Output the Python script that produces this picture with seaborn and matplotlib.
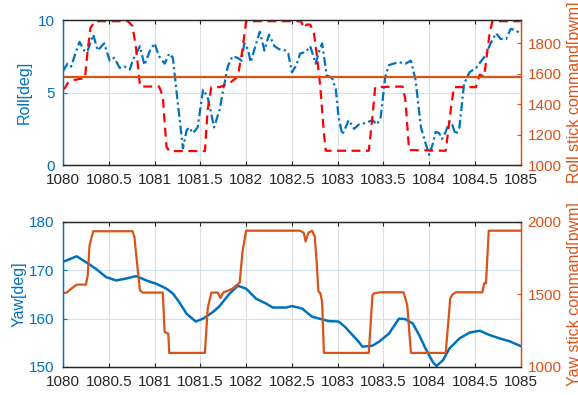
import numpy as np
import pandas as pd
import seaborn as sns
from matplotlib import pyplot as plt
from matplotlib.ticker import FuncFormatter, MultipleLocator

# ---- data ----
roll_t = [1080.0, 1080.02, 1080.05, 1080.09, 1080.13, 1080.18, 1080.24, 1080.27, 1080.33, 1080.38,
          1080.42, 1080.45, 1080.51, 1080.56, 1080.62, 1080.67, 1080.73, 1080.76, 1080.84, 1080.89,
          1080.95, 1081.0, 1081.05, 1081.11, 1081.16, 1081.2, 1081.25, 1081.31, 1081.35, 1081.38,
          1081.42, 1081.47, 1081.53, 1081.58, 1081.65, 1081.71, 1081.75, 1081.8, 1081.85, 1081.91,
          1081.95, 1081.98, 1082.02, 1082.05, 1082.11, 1082.15, 1082.2, 1082.25, 1082.31, 1082.36,
          1082.43, 1082.46, 1082.5, 1082.55, 1082.59, 1082.65, 1082.7, 1082.72, 1082.76, 1082.79,
          1082.83, 1082.88, 1082.94, 1082.98, 1083.01, 1083.05, 1083.08, 1083.12, 1083.18, 1083.23,
          1083.3, 1083.38, 1083.43, 1083.47, 1083.52, 1083.56, 1083.61, 1083.67, 1083.74, 1083.8,
          1083.85, 1083.91, 1083.96, 1084.0, 1084.04, 1084.07, 1084.11, 1084.14, 1084.18, 1084.22,
          1084.25, 1084.29, 1084.33, 1084.38, 1084.44, 1084.51, 1084.57, 1084.62, 1084.67, 1084.73,
          1084.78, 1084.84, 1084.89, 1084.95, 1085.0]
roll_deg = [6.5, 6.7, 7.0, 6.8, 7.6, 8.5, 7.8, 7.9, 9.0, 7.9,
            8.2, 8.4, 7.2, 7.4, 6.7, 6.8, 6.6, 7.2, 8.2, 6.9,
            7.9, 8.4, 7.5, 7.0, 7.7, 7.4, 4.5, 1.15, 2.4, 2.6,
            2.2, 2.6, 5.2, 4.7, 2.6, 3.8, 5.2, 6.8, 7.5, 7.4,
            7.2, 8.4, 8.0, 7.1, 8.4, 9.2, 7.9, 9.0, 8.2, 8.0,
            7.9, 7.7, 6.4, 6.9, 7.7, 7.8, 8.2, 7.8, 7.0, 7.7,
            8.4, 6.2, 6.0, 5.2, 3.3, 2.1, 2.5, 3.1, 2.5, 2.8,
            2.9, 3.1, 2.8, 3.3, 6.1, 6.9, 7.0, 7.1, 7.0, 7.2,
            5.9, 2.6, 1.5, 0.7, 1.5, 2.3, 2.2, 1.8, 2.3, 3.0,
            2.8, 2.1, 2.6, 5.6, 6.4, 6.7, 7.2, 7.6, 8.4, 9.1,
            8.7, 8.7, 9.4, 9.3, 9.0]

roll_cmd_t = [1080.0, 1080.02, 1080.05, 1080.13, 1080.24, 1080.27, 1080.3, 1080.35, 1080.71, 1080.76,
              1080.8, 1080.84, 1080.85, 1081.05, 1081.09, 1081.13, 1081.16, 1081.55, 1081.58, 1081.62,
              1081.71, 1081.82, 1081.91, 1081.96, 1082.0, 1082.6, 1082.63, 1082.66, 1082.7, 1082.74,
              1082.77, 1082.81, 1082.85, 1082.87, 1083.34, 1083.38, 1083.41, 1083.71, 1083.74, 1083.78,
              1084.18, 1084.24, 1084.27, 1084.51, 1084.55, 1084.6, 1084.66, 1084.69, 1085.0]
roll_cmd = [1500, 1504, 1537, 1559, 1570, 1756, 1899, 1943, 1943, 1910,
            1756, 1526, 1515, 1515, 1449, 1121, 1092, 1092, 1362, 1511,
            1511, 1537, 1581, 1756, 1943, 1943, 1899, 1921, 1921, 1866,
            1734, 1515, 1208, 1094, 1094, 1318, 1511, 1515, 1427, 1099,
            1094, 1384, 1511, 1511, 1592, 1581, 1866, 1943, 1943]

roll_ref_t = [1080.0, 1085.0]
roll_ref = [1580, 1580]

yaw_t = [1080.0, 1080.02, 1080.15, 1080.25, 1080.36, 1080.47, 1080.58, 1080.69, 1080.8, 1080.91,
         1081.02, 1081.13, 1081.2, 1081.27, 1081.35, 1081.45, 1081.53, 1081.64, 1081.71, 1081.82,
         1081.91, 1082.0, 1082.11, 1082.22, 1082.29, 1082.44, 1082.5, 1082.61, 1082.72, 1082.9,
         1083.01, 1083.08, 1083.23, 1083.27, 1083.38, 1083.45, 1083.56, 1083.67, 1083.74, 1083.82,
         1083.89, 1083.96, 1084.04, 1084.08, 1084.15, 1084.22, 1084.33, 1084.44, 1084.55, 1084.66,
         1084.77, 1084.88, 1085.0]
yaw_deg = [171.8, 171.9, 172.9, 171.7, 170.3, 168.6, 167.9, 168.3, 168.8, 167.9,
           167.2, 166.2, 165.2, 163.4, 161.0, 159.4, 160.0, 161.4, 162.6, 165.2,
           166.8, 166.2, 164.1, 163.1, 162.3, 162.3, 162.6, 162.1, 160.4, 159.5,
           159.4, 158.3, 155.2, 154.2, 154.4, 155.2, 156.9, 160.0, 159.9, 159.0,
           156.6, 153.8, 151.0, 150.2, 151.4, 153.8, 155.9, 157.1, 157.5, 156.6,
           155.9, 155.3, 154.3]

yaw_cmd_t = [1080.0, 1080.04, 1080.09, 1080.15, 1080.25, 1080.27, 1080.29, 1080.33, 1080.76, 1080.78,
             1080.8, 1080.84, 1080.87, 1081.09, 1081.11, 1081.15, 1081.16, 1081.55, 1081.58, 1081.62,
             1081.69, 1081.72, 1081.75, 1081.85, 1081.93, 1081.96, 1082.0, 1082.59, 1082.63, 1082.65,
             1082.68, 1082.72, 1082.75, 1082.77, 1082.79, 1082.81, 1082.83, 1082.85, 1083.34, 1083.38,
             1083.4, 1083.47, 1083.72, 1083.76, 1083.8, 1084.18, 1084.23, 1084.25, 1084.29, 1084.58,
             1084.6, 1084.62, 1084.65, 1085.0]
yaw_cmd = [1510, 1513, 1540, 1568, 1568, 1632, 1839, 1936, 1936, 1897,
           1770, 1529, 1513, 1513, 1241, 1230, 1097, 1097, 1402, 1513,
           1513, 1476, 1513, 1540, 1582, 1793, 1940, 1940, 1925, 1866,
           1925, 1940, 1900, 1727, 1520, 1510, 1450, 1097, 1097, 1497,
           1508, 1515, 1515, 1427, 1097, 1097, 1473, 1497, 1515, 1515,
           1577, 1577, 1940, 1940]

BLUE = "#0072BD"
ORANGE = "#D95319"
DARK = "#262626"

sns.set_style("white")
plt.rcParams["font.family"] = ["Liberation Sans", "DejaVu Sans"]
plt.rcParams["font.size"] = 11


def style_axes(ax, ax2, ylabel, ylabel2):
    ax.set_xlim(1080, 1085)
    ax.xaxis.set_major_locator(MultipleLocator(0.5))
    ax.xaxis.set_major_formatter(FuncFormatter(lambda v, p: f"{v:g}"))
    ax.tick_params(axis="x", direction="in", length=3, colors=DARK, labelsize=11,
                   top=True, bottom=True, pad=6)
    ax.tick_params(axis="y", direction="in", length=3, colors=BLUE, labelsize=11, pad=6)
    ax2.tick_params(axis="y", direction="in", length=3, colors=ORANGE, labelsize=11, pad=5)
    ax.grid(axis="x", color="#dedede", lw=0.8)
    ax.grid(axis="y", color="#cfe2f3", lw=0.8)
    ax2.grid(False)
    for a in (ax, ax2):
        a.spines["top"].set_color(DARK)
        a.spines["bottom"].set_color(DARK)
        a.spines["left"].set_color(BLUE)
        a.spines["right"].set_color(ORANGE)
        for s in a.spines.values():
            s.set_linewidth(0.9)
    ax.set_xlabel("")
    ax.set_ylabel(ylabel, color=BLUE, fontsize=11.5)
    ax2.set_ylabel(ylabel2, color=ORANGE, fontsize=11.5)
    ax.yaxis.set_label_coords(-0.068, 0.5)
    ax2.yaxis.set_label_coords(1.10, 0.5)


fig = plt.figure(figsize=(5.78, 3.95), dpi=100)
ax_top = fig.add_axes([0.109, 0.582, 0.792, 0.367])
ax_bot = fig.add_axes([0.109, 0.071, 0.792, 0.367])

# top: roll
ax_top2 = ax_top.twinx()
sns.lineplot(x=roll_t, y=roll_deg, ax=ax_top, color=BLUE, lw=1.6,
             linestyle=(0, (4, 1.5, 1, 1.5)))
sns.lineplot(x=roll_cmd_t, y=roll_cmd, ax=ax_top2, color="#FF0000", lw=1.6,
             linestyle=(0, (4, 2.5)))
sns.lineplot(x=roll_ref_t, y=roll_ref, ax=ax_top2, color=ORANGE, lw=1.6)
ax_top.set_ylim(0, 10)
ax_top.yaxis.set_major_locator(MultipleLocator(5))
ax_top2.set_ylim(1000, 1950)
ax_top2.yaxis.set_major_locator(MultipleLocator(200))
style_axes(ax_top, ax_top2, "Roll[deg]", "Roll stick command[pwm]")

# bottom: yaw
ax_bot2 = ax_bot.twinx()
sns.lineplot(x=yaw_t, y=yaw_deg, ax=ax_bot, color=BLUE, lw=1.8)
sns.lineplot(x=yaw_cmd_t, y=yaw_cmd, ax=ax_bot2, color=ORANGE, lw=1.6)
ax_bot.set_ylim(150, 180)
ax_bot.yaxis.set_major_locator(MultipleLocator(10))
ax_bot2.set_ylim(1000, 2000)
ax_bot2.yaxis.set_major_locator(MultipleLocator(500))
style_axes(ax_bot, ax_bot2, "Yaw[deg]", "Yaw stick command[pwm]")
ax_bot.yaxis.set_label_coords(-0.08, 0.5)

fig.savefig("out.png", dpi=100)
